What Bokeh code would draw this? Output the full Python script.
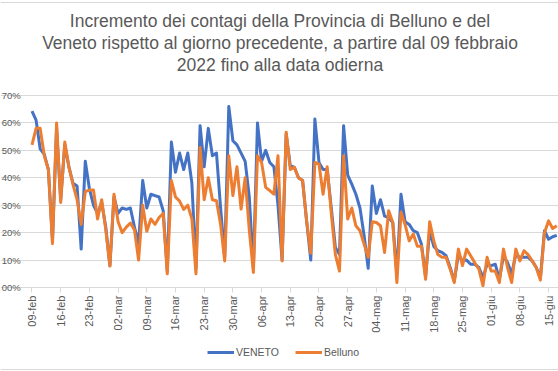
import math
from bokeh.plotting import figure
from bokeh.models import Range1d, FixedTicker, Legend, Label, Span
from bokeh.embed import file_html
from bokeh.resources import INLINE

tick_labels = ["09-feb", "16-feb", "23-feb", "02-mar", "09-mar", "16-mar", "23-mar",
               "30-mar", "06-apr", "13-apr", "20-apr", "27-apr", "04-mag", "11-mag",
               "18-mag", "25-mag", "01-giu", "08-giu", "15-giu"]

# daily percentage increase, from 09 Feb 2022 (one value per day)
veneto = [64.3, 61, 50.5, 48.5, 43, 17, 58, 32, 52, 44, 38, 37, 14, 46, 36, 30, 27, 31, 22, 8,
          33, 27, 29, 28.5, 29, 22, 16, 39, 29, 34, 33.5, 33, 28, 6, 53, 42, 49, 43, 49, 38,
          7, 59, 44, 58, 48, 49, 29, 11, 66, 53.5, 52, 49, 46, 33, 7, 60, 46, 50, 45.6, 44,
          30, 10, 56, 44.4, 43.8, 40, 39, 24, 10, 61.4, 45.6, 43, 43, 29, 14.6, 12, 59, 41, 37.7, 34,
          29, 19, 7, 37, 27, 32, 26, 25.5, 23.7, 5, 34, 24, 23, 20.7, 20, 15.8, 4, 20.7, 15, 13.4,
          12.8, 11.6, 7.3, 2.4, 12, 9.7, 10, 8.5, 8.5, 7.3, 3.6, 8.5, 8, 8.5, 3, 11.6, 9, 5, 12, 11,
          11, 11, 9.7, 7.3, 3.6, 20.7, 17.6, 18.5, 19]
belluno = [52, 58, 58, 48, 43, 16, 60, 31, 53, 44, 37.5, 32, 23, 35, 35.5, 35.5, 25, 32, 21, 7.8,
           34, 24, 20, 22, 23.5, 21, 10, 30, 20.5, 25, 23, 25.5, 27, 5, 39, 33, 31.5, 28.5, 30, 25,
           5, 51, 32, 40, 32, 31.6, 23, 9.7, 48, 33.5, 44, 28.6, 40, 21, 5.5, 48, 45.6, 36.5, 35.3, 34,
           48, 9.7, 56.6, 43, 43.8, 40, 39, 24, 12.5, 45.6, 45, 34, 44, 27, 12, 6, 48, 25, 29, 22.5,
           20.7, 15.8, 11, 24, 23.7, 22.5, 12.8, 28, 23.7, 1.8, 27.4, 23, 17, 19.5, 15, 15, 3, 24, 17, 12,
           11, 11, 6.7, 1.8, 14, 8, 14, 11.6, 9, 6.7, 0.6, 11, 6, 6, 1.8, 14, 7.3, 1.8, 14, 9.7,
           13.4, 12, 9.7, 7.3, 2.7, 20, 24.3, 21.5, 22.5]
y_ticks = [0, 10, 20, 30, 40, 50, 60, 70]
y_labels = ["00%", "10%", "20%", "30%", "40%", "50%", "60%", "70%"]
title_lines = ["Incremento dei contagi della Provincia di Belluno e del",
               "Veneto rispetto al giorno precedente, a partire dal 09 febbraio",
               "2022 fino alla data odierna"]

days = list(range(len(veneto)))
tick_pos = [7 * k for k in range(len(tick_labels))]

TXT = "#595959"
GRID = "#d9d9d9"
FONT = "Liberation Sans"

# the frame covers the whole canvas; axes are pinned inside it
p = figure(width=558, height=371, output_backend="svg", toolbar_location=None,
           x_range=Range1d(-7.68, 128.42), y_range=Range1d(-30.6, 104.6),
           min_border_left=0, min_border_right=0, min_border_top=0, min_border_bottom=0)
p.outline_line_color = None

# chart-area border (top and bottom edges visible in the crop)
p.add_layout(Span(location=369, location_units="screen", dimension="width",
                  line_color=GRID, line_width=1))
p.add_layout(Span(location=2, location_units="screen", dimension="width",
                  line_color=GRID, line_width=1))

r1 = p.line(days, veneto, line_color="#4472C4", line_width=3, line_join="round")
r2 = p.line(days, belluno, line_color="#ED7D31", line_width=3, line_join="round")

for i, txt in enumerate(title_lines):
    p.add_layout(Label(x=279.5, y=351 - 22 * i, x_units="screen", y_units="screen", text=txt,
                       text_align="center", text_baseline="middle", text_font=FONT,
                       text_font_size="17.5px", text_color=TXT))

xa = p.xaxis[0]
xa.fixed_location = 0
xa.bounds = (-0.3, 130)
xa.ticker = FixedTicker(ticks=tick_pos)
xa.major_label_overrides = {t: l for t, l in zip(tick_pos, tick_labels)}
xa.major_label_orientation = math.pi / 2
xa.axis_line_color = GRID
xa.major_tick_line_color = GRID
xa.major_tick_out = 5
xa.major_tick_in = 0
xa.minor_tick_line_color = None
xa.major_label_text_font = FONT
xa.major_label_text_font_size = "11px"
xa.major_label_text_color = TXT
xa.major_label_standoff = 3

ya = p.yaxis[0]
ya.fixed_location = -0.3
ya.ticker = FixedTicker(ticks=y_ticks)
ya.major_label_overrides = {t: l for t, l in zip(y_ticks, y_labels)}
ya.axis_line_color = None
ya.major_tick_line_color = None
ya.major_tick_out = 0
ya.major_tick_in = 0
ya.minor_tick_line_color = None
ya.major_label_text_font = FONT
ya.major_label_text_font_size = "9.5px"
ya.major_label_text_color = TXT
ya.major_label_standoff = 10

p.xgrid.visible = False
p.ygrid.grid_line_color = GRID
p.ygrid.grid_line_width = 1
p.ygrid.bounds = (-0.3, 130)

legend = Legend(items=[("VENETO", [r1]), ("Belluno", [r2])], orientation="horizontal",
                location=(207, 13), border_line_color=None, background_fill_alpha=0,
                label_text_font=FONT, label_text_font_size="10.5px", label_text_color=TXT,
                glyph_width=27, glyph_height=12, label_height=12, label_standoff=2,
                spacing=16, padding=4, margin=0)
p.add_layout(legend, "center")

open("out.html", "w").write(file_html(p, INLINE))
